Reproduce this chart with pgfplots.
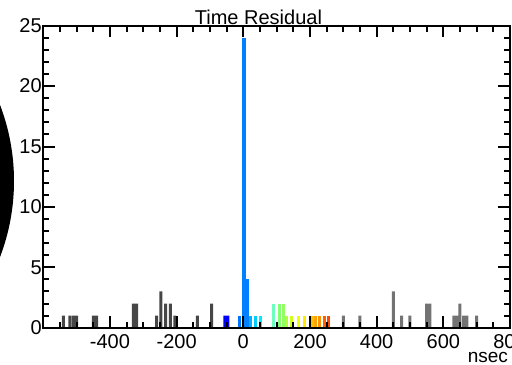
\documentclass[border=0pt]{standalone}
\usepackage{pgfplots}
\pgfplotsset{compat=1.18}
\usepackage{pgfplotstable}
\usepackage{fontspec}
\setmainfont{Liberation Sans}

\pgfplotstableread{
x y
-540 1
-520 1
-510 1
-500 1
-450 1
-440 1
-330 2
-320 2
-260 1
-247 3
-233 2
-219 2
-205 1
-138 1
-95 2
}\leftgray

\pgfplotstableread{
x y
300 1
350 1
450 3
475 1
500 1
550 2
560 2
632 1
641 1
650 2
661 1
671 1
700 1
}\rightgray

\definecolor{gL}{RGB}{70,70,70}
\definecolor{gR}{RGB}{115,115,115}

\begin{document}
\begin{tikzpicture}[x=1pt,y=1pt]
\useasboundingbox (0,0) rectangle (256,182);
\fill[black] (-99.5,91.5) circle (106.5);
\begin{axis}[
  at={(21.65pt,18.15pt)}, anchor=south west,
  width=233.35pt, height=151pt, scale only axis,
  xmin=-600, xmax=800, ymin=0, ymax=25,
  axis on top,
  axis line style={line width=1.1pt},
  xtick={-600,-400,...,800},
  xticklabels={,-400,-200,0,200,400,600,800},
  minor xtick={-550,-500,...,750},
  ytick={0,5,...,25},
  minor ytick={1,2,3,4,6,7,8,9,11,12,13,14,16,17,18,19,21,22,23,24},
  tick align=inside,
  major tick length=5.75pt, minor tick length=3pt,
  every tick/.style={black, line width=1pt},
  tick label style={font=\fontsize{10}{12}\selectfont},
  /pgf/number format/assume math mode=true,
  yticklabel style={inner xsep=0.6pt},
  every axis title shift=0pt,
  title={Time Residual},
  title style={at={(0.461,1)}, anchor=base, yshift=0.6pt, inner sep=0pt, font=\fontsize{10}{12}\selectfont},
  xlabel={nsec},
  xlabel style={at={(1,0)}, anchor=base east, inner sep=0pt, yshift=-17.2pt, xshift=-0.8pt, font=\fontsize{9.5}{11}\selectfont},
]
\addplot[ybar, bar width=9, bar shift=0pt, fill=gL, draw=none] table {\leftgray};
\addplot[ybar, bar width=9, bar shift=0pt, fill=gR, draw=none] table {\rightgray};
\addplot[ybar, bar width=9, bar shift=0pt, fill={rgb,255:red,0;green,0;blue,255}, draw=none] coordinates {(-55,1) (-46,1)};
\addplot[ybar, bar width=9, bar shift=0pt, fill={rgb,255:red,0;green,115;blue,255}, draw=none] coordinates {(-10,1)};
\addplot[ybar, bar width=12, bar shift=0pt, fill={rgb,255:red,0;green,128;blue,255}, draw=none] coordinates {(2,24)};
\addplot[ybar, bar width=8, bar shift=0pt, fill={rgb,255:red,0;green,128;blue,255}, draw=none] coordinates {(12,4)};
\addplot[ybar, bar width=9, bar shift=0pt, fill={rgb,255:red,0;green,175;blue,255}, draw=none] coordinates {(22,1)};
\addplot[ybar, bar width=9, bar shift=0pt, fill={rgb,255:red,0;green,205;blue,255}, draw=none] coordinates {(38,1)};
\addplot[ybar, bar width=9, bar shift=0pt, fill={rgb,255:red,0;green,235;blue,255}, draw=none] coordinates {(53,1)};
\addplot[ybar, bar width=9, bar shift=0pt, fill={rgb,255:red,110;green,255;blue,190}, draw=none] coordinates {(92,2)};
\addplot[ybar, bar width=9, bar shift=0pt, fill={rgb,255:red,130;green,255;blue,115}, draw=none] coordinates {(110,2)};
\addplot[ybar, bar width=9, bar shift=0pt, fill={rgb,255:red,145;green,255;blue,95}, draw=none] coordinates {(120,2)};
\addplot[ybar, bar width=9, bar shift=0pt, fill={rgb,255:red,175;green,255;blue,60}, draw=none] coordinates {(131,1)};
\addplot[ybar, bar width=9, bar shift=0pt, fill={rgb,255:red,210;green,255;blue,25}, draw=none] coordinates {(145,1)};
\addplot[ybar, bar width=9, bar shift=0pt, fill={rgb,255:red,240;green,255;blue,0}, draw=none] coordinates {(165,1)};
\addplot[ybar, bar width=9, bar shift=0pt, fill={rgb,255:red,255;green,235;blue,0}, draw=none] coordinates {(184,1)};
\addplot[ybar, bar width=9, bar shift=0pt, fill={rgb,255:red,255;green,190;blue,0}, draw=none] coordinates {(207,1)};
\addplot[ybar, bar width=9, bar shift=0pt, fill={rgb,255:red,255;green,165;blue,0}, draw=none] coordinates {(217,1)};
\addplot[ybar, bar width=9, bar shift=0pt, fill={rgb,255:red,255;green,145;blue,0}, draw=none] coordinates {(229,1)};
\addplot[ybar, bar width=9, bar shift=0pt, fill={rgb,255:red,255;green,95;blue,0}, draw=none] coordinates {(245,1)};
\addplot[ybar, bar width=9, bar shift=0pt, fill={rgb,255:red,255;green,70;blue,0}, draw=none] coordinates {(255,1)};
\end{axis}
\end{tikzpicture}
\end{document}
